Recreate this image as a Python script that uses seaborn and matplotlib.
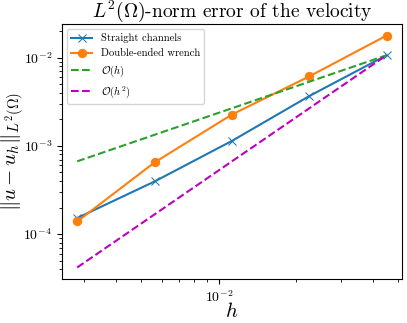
import numpy as np
import pandas as pd
import matplotlib
matplotlib.use("Agg")
import matplotlib.pyplot as plt
import seaborn as sns

h = [0.0028125, 0.005625, 0.01125, 0.0225, 0.045]
err_straight = [1.52e-4, 3.95e-4, 1.14e-3, 3.68e-3, 1.07e-2]
err_wrench = [1.39e-4, 6.5e-4, 2.27e-3, 6.15e-3, 1.79e-2]
labels = ["Straight channels", "Double-ended wrench", r"$\mathcal{O}(h)$", r"$\mathcal{O}(h^2)$"]

plt.rcParams["font.family"] = "serif"
plt.rcParams["font.serif"] = ["cmr10", "DejaVu Serif"]
plt.rcParams["mathtext.fontset"] = "cm"
plt.rcParams["axes.formatter.use_mathtext"] = True

h_arr = np.array(h)
ref1 = err_straight[-1] * h_arr / h_arr[-1]
ref2 = err_straight[-1] * (h_arr / h_arr[-1]) ** 2

df = pd.DataFrame({"h": h, "s": err_straight, "w": err_wrench, "r1": ref1, "r2": ref2})

fig, ax = plt.subplots(figsize=(4.07, 3.23), dpi=100)
fig.subplots_adjust(left=0.1516, right=0.988, top=0.926, bottom=0.136)

sns.lineplot(data=df, x="h", y="s", ax=ax, color="tab:blue", marker="x", markersize=6,
             markeredgecolor="tab:blue", label=labels[0], lw=1.5)
sns.lineplot(data=df, x="h", y="w", ax=ax, color="tab:orange", marker="o", markersize=6,
             markeredgecolor="tab:orange", label=labels[1], lw=1.5)
sns.lineplot(data=df, x="h", y="r1", ax=ax, color="tab:green", linestyle="--", label=labels[2], lw=1.5)
sns.lineplot(data=df, x="h", y="r2", ax=ax, color="m", linestyle="--", label=labels[3], lw=1.5)

ax.set_xscale("log")
ax.set_yscale("log")
ax.set_title(r"$L^2(\Omega)$-norm error of the velocity", fontsize=14, pad=4)
ax.set_xlabel(r"$h$", fontsize=15, labelpad=-2)
ax.set_ylabel(r"$\|u - u_h\|_{L^2(\Omega)}$", fontsize=15, labelpad=-2)
ax.tick_params(labelsize=10)
ax.legend(loc="upper left", fontsize=7.6)

fig.savefig("out.png", dpi=100)
